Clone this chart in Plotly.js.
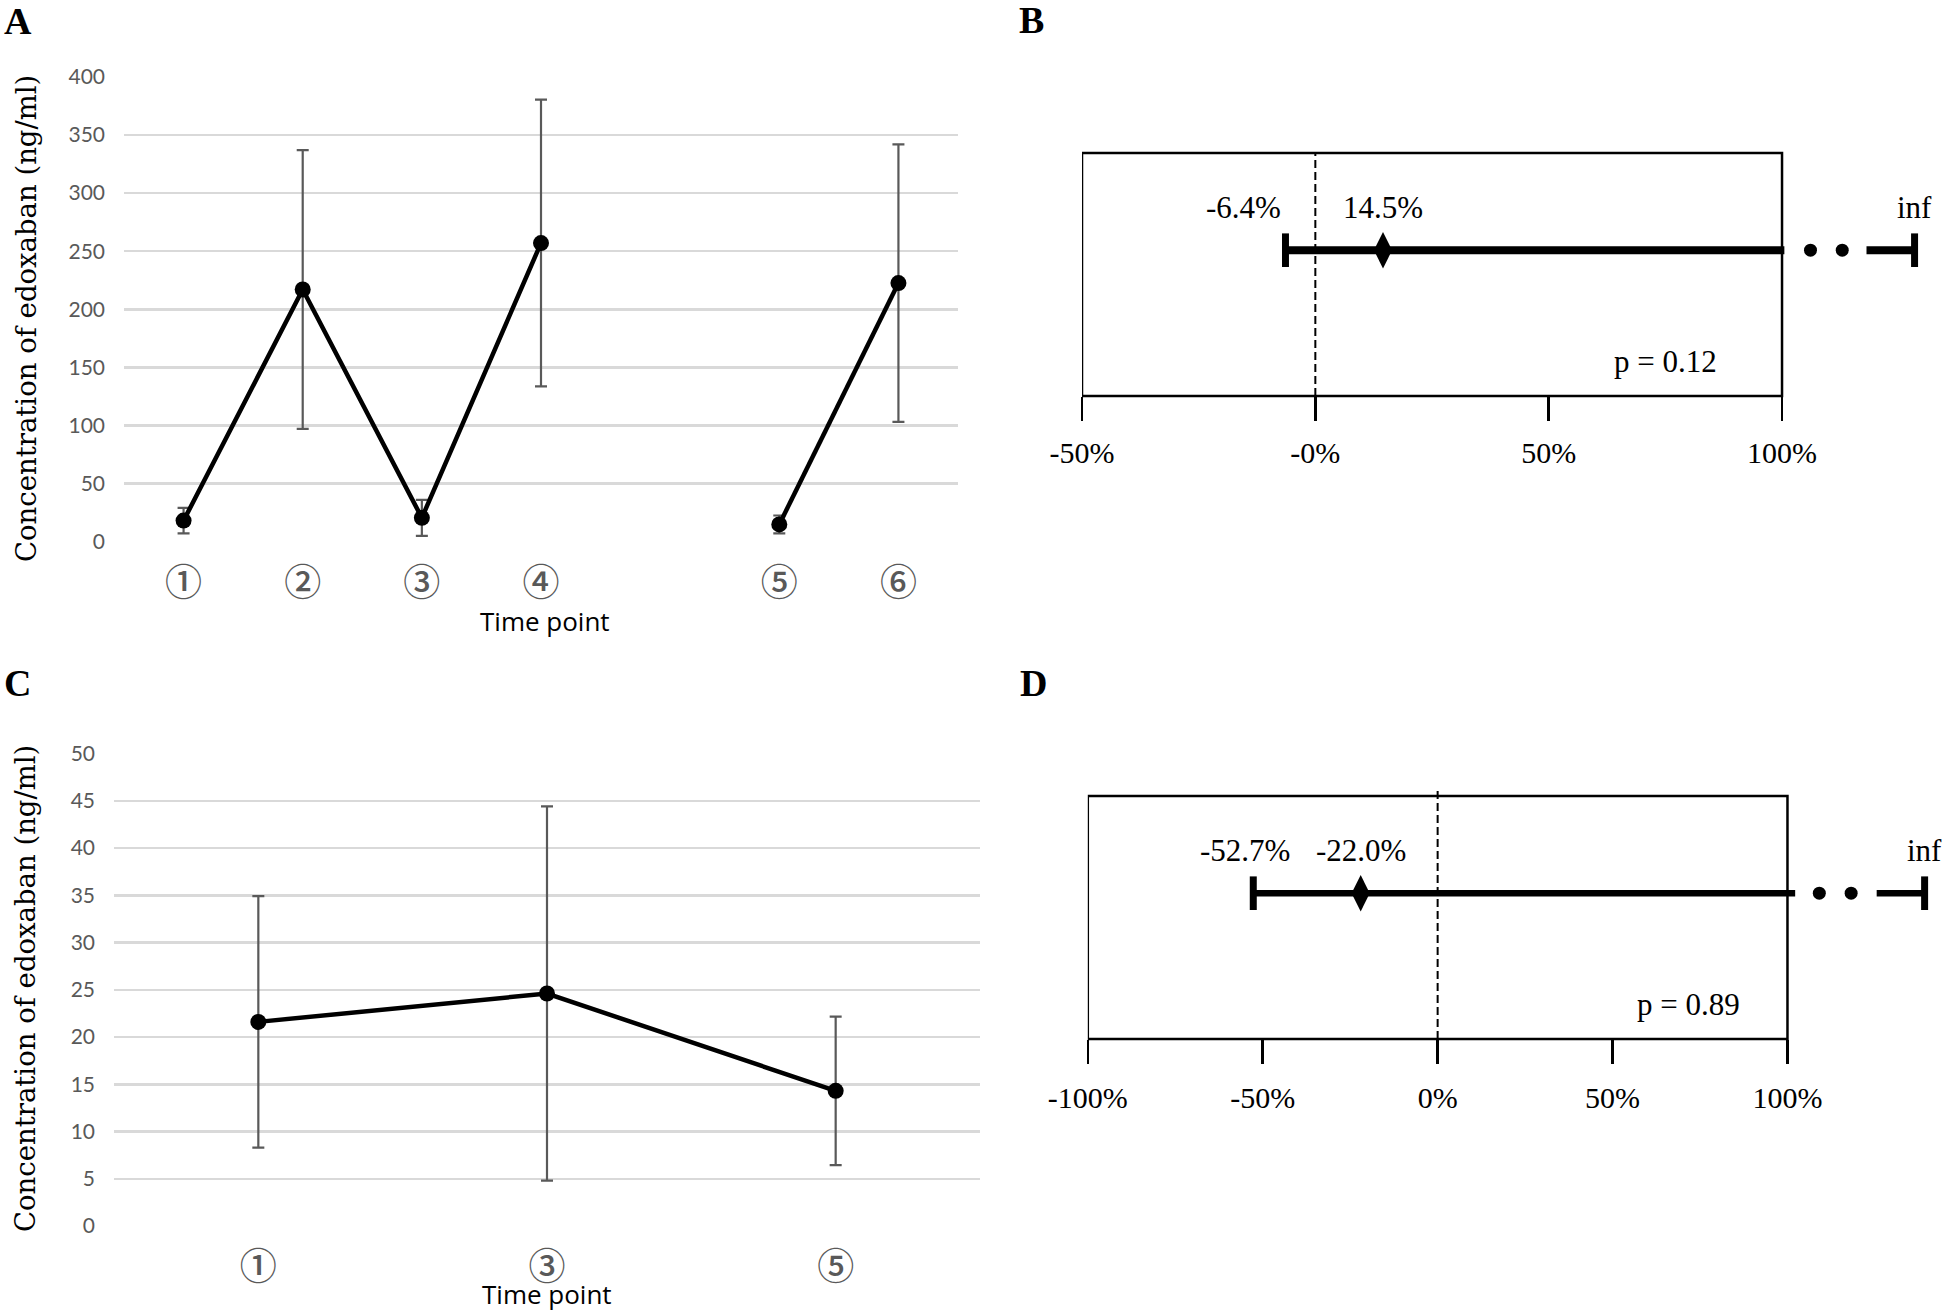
<!DOCTYPE html>
<html><head><meta charset="utf-8">
<script src="https://cdn.plot.ly/plotly-3.0.1.min.js"></script>
<style>html,body{margin:0;padding:0;background:#fff;}#chart{width:1945px;height:1312px;}</style>
</head><body><div id="chart"></div>
<script>
// ---------- DATA ----------
// Panel A: edoxaban concentration by time point (mean, SD)
const timePointsA = ['①','②','③','④',' ','⑤','⑥'];
const meanA = [18, 217, 20.4, 257, null, 14.7, 222.5];
const sdA   = [11, 120, 15.5, 123.5, null, 7.7, 119.5];
// Panel C
const timePointsC = ['①','③','⑤'];
const meanC = [21.6, 24.6, 14.3];
const sdC   = [13.3, 19.8, 7.85];
// Panel B: estimate and 95% CI (%)
const estimateB = 14.5, lowerB = -6.4, upperB = Infinity, pB = 0.12;
const tickValsB = [-50, 0, 50, 100];
const tickTextB = ['-50%', '-0%', '50%', '100%'];
// Panel D
const estimateD = -22.0, lowerD = -52.7, upperD = Infinity, pD = 0.89;
const tickValsD = [-100, -50, 0, 50, 100];
const tickTextD = ['-100%', '-50%', '0%', '50%', '100%'];

// ---------- STYLE / LAYOUT CONSTANTS ----------
const W = 1945, H = 1312;
const px = v => v / W, py = v => 1 - v / H;
const grey = '#595959';
const tickFontSans = {family: 'Lato, "Open Sans", sans-serif', size: 21, color: grey};
const circFont = {family: '"Noto Sans CJK JP", "DejaVu Sans", sans-serif', size: 37, color: grey, weight: 500};
const serif = 'Liberation Serif, "Times New Roman", serif';
// axis-break glyph placement for infinite upper limits (axis units)
const breakB = {solidEnd: 100.5, dots: [106.1, 112.9], dashStart: 118.1, infAt: 128.4, lw: 8};
const breakD = {solidEnd: 102.2, dots: [109.1, 118.2], dashStart: 125.5, infAt: 139.2, lw: 6.5};

function lineTrace(cats, mean, sd, xa, ya) {
  return {
    type: 'scatter', mode: 'lines+markers', x: cats, y: mean, xaxis: xa, yaxis: ya,
    connectgaps: false,
    line: {color: '#000', width: 4.5},
    marker: {color: '#000', size: 16},
    error_y: {type: 'data', array: sd, visible: true, color: grey, thickness: 2.2, width: 6},
    showlegend: false, hoverinfo: 'x+y'
  };
}

function forestTraces(lower, est, upper, brk, xa, ya) {
  const row = 0;
  const hi = isFinite(upper) ? upper : brk.solidEnd;
  const capEnd = isFinite(upper) ? upper : brk.infAt;
  const t = [];
  t.push({type: 'scatter', mode: 'lines', x: [lower, hi], y: [row, row], xaxis: xa, yaxis: ya,
    line: {color: '#000', width: brk.lw}, showlegend: false, cliponaxis: false});
  if (!isFinite(upper)) {
    t.push({type: 'scatter', mode: 'markers', x: brk.dots, y: brk.dots.map(() => row), xaxis: xa, yaxis: ya,
      marker: {color: '#000', size: 13}, showlegend: false, cliponaxis: false});
    t.push({type: 'scatter', mode: 'lines', x: [brk.dashStart, brk.infAt], y: [row, row], xaxis: xa, yaxis: ya,
      line: {color: '#000', width: brk.lw}, showlegend: false, cliponaxis: false});
  }
  t.push({type: 'scatter', mode: 'markers', x: [lower, capEnd], y: [row, row], xaxis: xa, yaxis: ya,
    marker: {symbol: 'line-ns', size: 24, line: {color: '#000', width: 7}}, showlegend: false, cliponaxis: false});
  t.push({type: 'scatter', mode: 'markers', x: [est], y: [row], xaxis: xa, yaxis: ya,
    marker: {symbol: 'diamond-tall', size: 26, color: '#000'}, showlegend: false, cliponaxis: false});
  return t;
}

const data = [
  lineTrace(timePointsA, meanA, sdA, 'x', 'y'),
  ...forestTraces(lowerB, estimateB, upperB, breakB, 'x2', 'y2'),
  lineTrace(timePointsC, meanC, sdC, 'x3', 'y3'),
  ...forestTraces(lowerD, estimateD, upperD, breakD, 'x4', 'y4')
];

const catAxis = (domain, cats, anchor) => ({
  domain, type: 'category', categoryorder: 'array', categoryarray: cats, anchor,
  range: [-0.5, cats.length - 0.5], autorange: false,
  showgrid: false, zeroline: false, showline: false, ticks: '',
  tickfont: circFont, ticklabelstandoff: 16, fixedrange: true
});
const valAxis = (domain, range, dtick, anchor) => ({
  domain, range, dtick, anchor, tick0: 0,
  showgrid: true, gridcolor: '#d9d9d9', gridwidth: 2.5,
  zeroline: false, showline: false, ticks: '',
  tickfont: tickFontSans, ticklabelstandoff: 18, fixedrange: true
});
const pctAxis = (domain, range, tv, tt, anchor, standoff) => ({
  domain, range, anchor, tickmode: 'array', tickvals: tv, ticktext: tt,
  showgrid: false, zeroline: false, showline: false,
  ticks: 'outside', ticklen: 24, tickwidth: 2.5, tickcolor: '#000',
  tickfont: {family: serif, size: 30, color: '#000'}, ticklabelstandoff: standoff, fixedrange: true
});
const hidY = (domain, anchor) => ({domain, range: [-1.5, 1], anchor, visible: false, fixedrange: true});

const ann = [];
function label(text, x, y, font, extra) {
  ann.push(Object.assign({text, x: px(x), y: py(y), xref: 'paper', yref: 'paper',
    xanchor: 'center', yanchor: 'middle', showarrow: false, font}, extra || {}));
}
const panelFont = {family: serif, size: 38, color: '#000', weight: 'bold'};
label('<b>A</b>', 18, 21, panelFont);
label('<b>B</b>', 1031, 20, panelFont);
label('<b>C</b>', 17, 683, panelFont);
label('<b>D</b>', 1033, 683, panelFont);
const yTitleFont = {family: '"DejaVu Serif", serif', size: 27.5, color: '#000'};
label('Concentration of edoxaban (ng/ml)', 26, 319, yTitleFont, {textangle: -90});
label('Concentration of edoxaban (ng/ml)', 25, 989, yTitleFont, {textangle: -90});
const xTitleFont = {family: '"Open Sans", Lato, sans-serif', size: 26, color: '#000'};
label('Time point', 545, 621, xTitleFont);
label('Time point', 547, 1294, xTitleFont);

const fpFont = {family: serif, size: 31, color: '#000'};
function fpLabels(xa, ya, lower, est, brk, p, lowShift, pPos) {
  const fmt = v => (v < 0 ? '-' : '') + Math.abs(v).toFixed(1) + '%';
  ann.push({text: fmt(lower), x: lower, y: 0, xref: xa, yref: ya, yshift: 43, xshift: lowShift,
    showarrow: false, font: fpFont, xanchor: 'center', yanchor: 'middle'});
  ann.push({text: fmt(est), x: est, y: 0, xref: xa, yref: ya, yshift: 43,
    showarrow: false, font: fpFont, xanchor: 'center', yanchor: 'middle'});
  ann.push({text: 'inf', x: brk.infAt, y: 0, xref: xa, yref: ya, yshift: 43,
    showarrow: false, font: fpFont, xanchor: 'center', yanchor: 'middle'});
  ann.push({text: 'p = ' + p.toFixed(2), x: pPos[0], y: pPos[1], xref: xa + ' domain', yref: ya + ' domain',
    showarrow: false, font: fpFont, xanchor: 'center', yanchor: 'middle'});
}
fpLabels('x2', 'y2', lowerB, estimateB, breakB, pB, -42, [0.679, 0.144]);
fpLabels('x4', 'y4', lowerD, estimateD, breakD, pD, -8, [0.707, 0.14]);

const shapes = [];
function box(xa, ya, x0, x1, zeroTop) {
  shapes.push({type: 'rect', xref: xa, yref: ya + ' domain', x0, x1, y0: 0, y1: 1,
    line: {color: '#000', width: 2.5}, fillcolor: 'rgba(0,0,0,0)', layer: 'above'});
  shapes.push({type: 'line', xref: xa, yref: ya + ' domain', x0: 0, x1: 0, y0: 0, y1: zeroTop,
    line: {color: '#000', width: 2, dash: '8px,4px'}, layer: 'above'});
}
box('x2', 'y2', -50, 100, 1);
box('x4', 'y4', -100, 100, 1.03);

const layout = {
  width: W, height: H, margin: {l: 0, r: 0, t: 0, b: 0},
  paper_bgcolor: '#fff', plot_bgcolor: 'rgba(0,0,0,0)', showlegend: false,
  xaxis: catAxis([px(124), px(958)], timePointsA, 'y'),
  yaxis: valAxis([py(541.5), py(77)], [0, 400], 50, 'x'),
  xaxis2: pctAxis([px(1082), px(1940.7)], [-50, 134], tickValsB, tickTextB, 'y2', 6),
  yaxis2: hidY([py(396), py(153)], 'x2'),
  xaxis3: catAxis([px(114), px(980)], timePointsC, 'y3'),
  yaxis3: valAxis([py(1226), py(753.5)], [0, 50], 5, 'x3'),
  xaxis4: pctAxis([px(1087.8), px(1937.9)], [-100, 143], tickValsD, tickTextD, 'y4', 8),
  yaxis4: hidY([py(1039), py(796)], 'x4'),
  annotations: ann, shapes
};

Plotly.newPlot('chart', data, layout, {staticPlot: true, displayModeBar: false});
</script></body></html>
